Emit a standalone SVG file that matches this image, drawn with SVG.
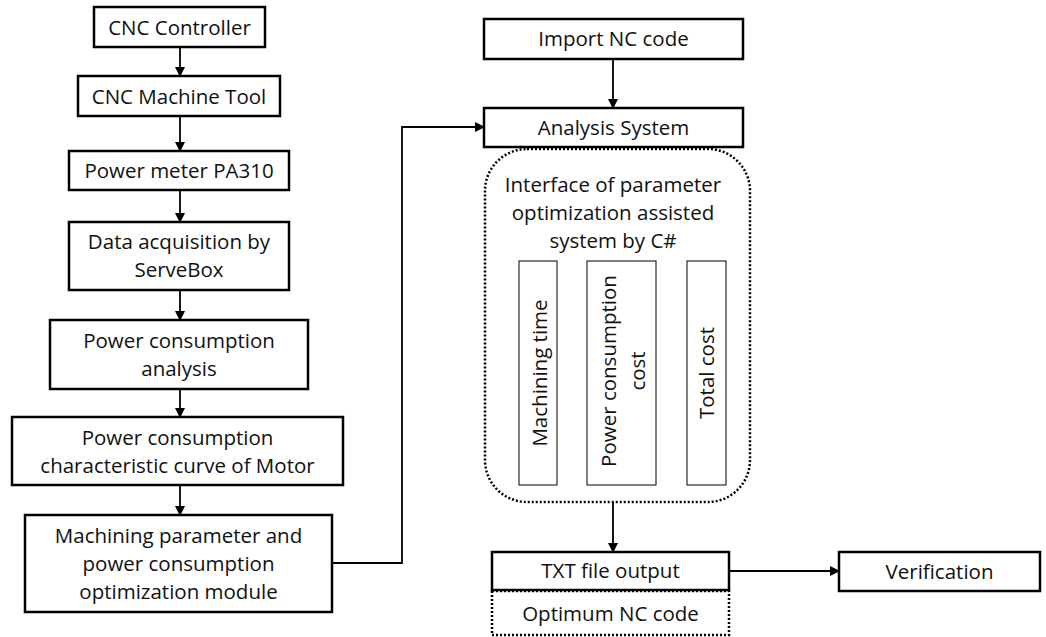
<svg xmlns="http://www.w3.org/2000/svg" width="1046" height="637" viewBox="0 0 1046 637">
<style>
.b{fill:#fff;stroke:#000;stroke-width:2.5}
.t{fill:#fff;stroke:#000;stroke-width:1}
.d{fill:none;stroke:#000;stroke-width:2.5;stroke-dasharray:2 2}
text{font-family:"Open Sans","Noto Sans",sans-serif;font-size:20.5px;fill:#111;text-anchor:middle}
.c{fill:none;stroke:#000;stroke-width:1.8}
</style>
<defs>
<marker id="a" markerWidth="10" markerHeight="10" refX="9" refY="5" orient="auto" markerUnits="userSpaceOnUse" viewBox="0 0 10 10"><path d="M0,0 L10,5 L0,10 z" fill="#000"/></marker>
</defs>
<g id="connectors">
<path class="c" d="M180,47 V76" marker-end="url(#a)"/>
<path class="c" d="M180,116 V151" marker-end="url(#a)"/>
<path class="c" d="M180,190 V222" marker-end="url(#a)"/>
<path class="c" d="M180,290 V320" marker-end="url(#a)"/>
<path class="c" d="M180,389 V417" marker-end="url(#a)"/>
<path class="c" d="M180,485 V515" marker-end="url(#a)"/>
<path class="c" d="M332,563 H402 V127 H484" marker-end="url(#a)"/>
<path class="c" d="M613,59 V108" marker-end="url(#a)"/>
<path class="c" d="M613,502 V552" marker-end="url(#a)"/>
<path class="c" d="M729,571 H839" marker-end="url(#a)"/>
</g>
<g id="cnc-controller"><rect class="b" x="94" y="7" width="171" height="40"/><text x="179.5" y="35">CNC Controller</text></g>
<g id="cnc-machine-tool"><rect class="b" x="78" y="76" width="202" height="40"/><text x="179" y="104">CNC Machine Tool</text></g>
<g id="power-meter"><rect class="b" x="69" y="151" width="220" height="39"/><text x="179" y="178">Power meter PA310</text></g>
<g id="data-acquisition"><rect class="b" x="69" y="222" width="220" height="68"/><text x="179" y="249">Data acquisition by</text><text x="179" y="277">ServeBox</text></g>
<g id="power-analysis"><rect class="b" x="50" y="320" width="258" height="69"/><text x="179" y="348">Power consumption</text><text x="179" y="376">analysis</text></g>
<g id="characteristic-curve"><rect class="b" x="12" y="417" width="331" height="68"/><text x="177.5" y="445">Power consumption</text><text x="177.5" y="473">characteristic curve of Motor</text></g>
<g id="optimization-module"><rect class="b" x="25" y="515" width="307" height="97"/><text x="178.5" y="543">Machining parameter and</text><text x="178.5" y="571">power consumption</text><text x="178.5" y="599">optimization module</text></g>
<g id="import-nc"><rect class="b" x="484" y="19" width="259" height="40"/><text x="613.5" y="46">Import NC code</text></g>
<g id="analysis-system"><rect class="b" x="484" y="108" width="259" height="39"/><text x="613.5" y="135">Analysis System</text></g>
<g id="interface">
<rect class="d" x="485" y="149" width="265" height="353" rx="42" ry="42"/>
<text x="613" y="192">Interface of parameter</text>
<text x="613" y="220">optimization assisted</text>
<text x="613" y="248">system by C#</text>
<g id="machining-time"><rect class="t" x="519" y="261" width="38" height="224"/><text transform="translate(547,373) rotate(-90)">Machining time</text></g>
<g id="power-cost"><rect class="t" x="587" y="261" width="69" height="224"/><text transform="translate(616,371) rotate(-90)">Power consumption</text><text transform="translate(645,371) rotate(-90)">cost</text></g>
<g id="total-cost"><rect class="t" x="687" y="261" width="39" height="224"/><text transform="translate(714,373) rotate(-90)">Total cost</text></g>
</g>
<g id="txt-output"><rect class="b" x="492" y="552" width="237" height="38"/><text x="610.5" y="578">TXT file output</text></g>
<g id="optimum-nc"><rect class="d" x="492" y="591" width="237" height="44"/><text x="610.5" y="621">Optimum NC code</text></g>
<g id="verification"><rect class="b" x="839" y="552" width="201" height="39"/><text x="939.5" y="579">Verification</text></g>
</svg>
